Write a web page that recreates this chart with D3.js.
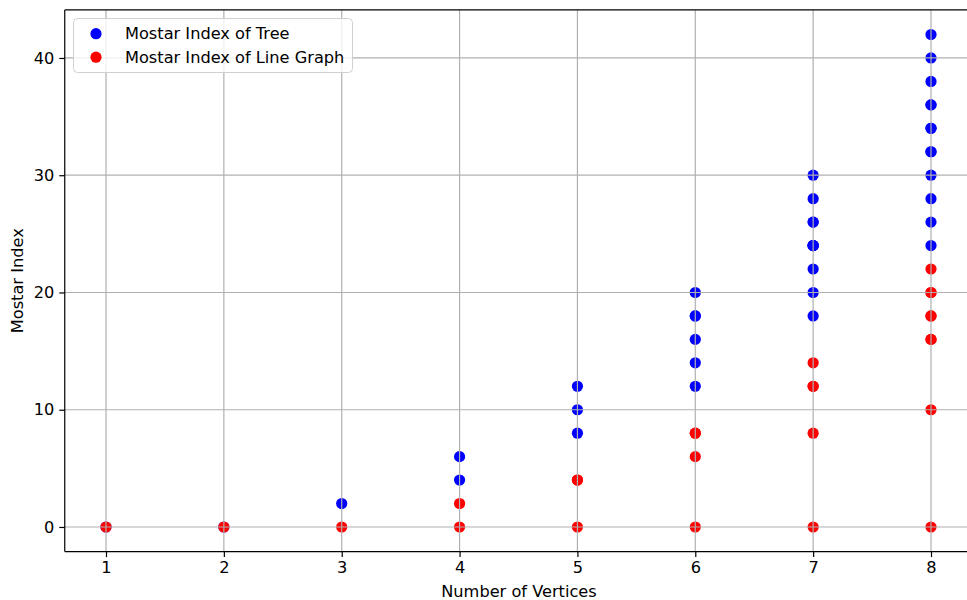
<!DOCTYPE html>
<html><head><meta charset="utf-8">
<script src="https://cdn.jsdelivr.net/npm/d3@7"></script>
<style>body{margin:0;background:#fff}svg{display:block}text{font-family:"DejaVu Sans",sans-serif;fill:#000}</style>
</head><body><div id="c"></div>
<script>
const treeVertices = [1,2,3,4,4,5,5,5,6,6,6,6,6,6,7,7,7,7,7,7,7,7,7,7,7,8,8,8,8,8,8,8,8,8,8,8,8,8];
const treeMostar   = [0,0,2,4,6,8,10,12,12,14,16,18,18,20,18,20,22,24,24,26,26,28,30,24,24,24,26,28,30,32,32,34,34,36,36,38,40,42];
const lineVertices = [1,2,3,4,4,5,5,5,6,6,6,6,7,7,7,7,7,8,8,8,8,8,8,8,8,8];
const lineMostar   = [0,0,0,0,2,0,4,4,0,6,8,8,0,8,12,12,14,0,10,16,16,18,18,20,20,22];
const xTicks = [1,2,3,4,5,6,7,8];
const yTicks = [0,10,20,30,40];
const seriesNames = ["Mostar Index of Tree","Mostar Index of Line Graph"];
const seriesColors = ["#0000ff","#ff0000"];

const W=967,H=600;
const L=64.75,R=972.25,T=9.9,B=551.6;
const FS=16.2;
const svg=d3.select("#c").append("svg").attr("width",W).attr("height",H);
const x=d3.scaleLinear().domain([0.65,8.35]).range([L,R]);
const y=d3.scaleLinear().domain([-2.1,44.1]).range([B,T]);

const pts=[];
treeVertices.forEach((v,i)=>pts.push({x:v,y:treeMostar[i],c:seriesColors[0]}));
lineVertices.forEach((v,i)=>pts.push({x:v,y:lineMostar[i],c:seriesColors[1]}));
svg.append("g").selectAll("circle").data(pts).join("circle")
  .attr("cx",d=>x(d.x)).attr("cy",d=>y(d.y)).attr("r",5.6).attr("fill",d=>d.c);

// grid (drawn over points like matplotlib)
const g=svg.append("g").attr("stroke","#b0b0b0").attr("stroke-width",1.2);
xTicks.forEach(t=>g.append("line").attr("x1",x(t)).attr("x2",x(t)).attr("y1",T).attr("y2",B));
yTicks.forEach(t=>g.append("line").attr("x1",L).attr("x2",R).attr("y1",y(t)).attr("y2",y(t)));

// axes
const xa=svg.append("g").attr("transform",`translate(0,${B})`)
  .call(d3.axisBottom(x).tickValues(xTicks).tickSize(5.5).tickPadding(4).tickFormat(d3.format("d")));
const ya=svg.append("g").attr("transform",`translate(${L},0)`)
  .call(d3.axisLeft(y).tickValues(yTicks).tickSize(5.5).tickPadding(5).tickFormat(d3.format("d")));
[xa,ya].forEach(a=>{a.select(".domain").remove();a.selectAll("line").attr("stroke","#000").attr("stroke-width",1.2);
  a.selectAll("text").attr("font-family","DejaVu Sans").attr("font-size",FS).attr("fill","#000");});
// spines
const sp=svg.append("g").attr("stroke","#000").attr("stroke-width",1.2).attr("fill","none");
sp.append("line").attr("x1",L).attr("x2",L).attr("y1",T).attr("y2",B);
sp.append("line").attr("x1",L).attr("x2",R).attr("y1",B).attr("y2",B);
sp.append("line").attr("x1",L).attr("x2",R).attr("y1",T).attr("y2",T);
sp.append("line").attr("x1",R).attr("x2",R).attr("y1",T).attr("y2",B);

svg.append("text").attr("x",519).attr("y",597).attr("text-anchor","middle").attr("font-size",FS).text("Number of Vertices");
svg.append("text").attr("transform",`translate(23,${(T+B)/2}) rotate(-90)`).attr("text-anchor","middle").attr("font-size",FS).text("Mostar Index");

// legend
const lg=svg.append("g");
lg.append("rect").attr("x",73.5).attr("y",18.5).attr("width",279).attr("height",54).attr("rx",4)
  .attr("fill","#fff").attr("fill-opacity",0.8).attr("stroke","#d0d0d0").attr("stroke-width",1);
seriesNames.forEach((n,i)=>{
  const cy=33.7+i*23.5;
  lg.append("circle").attr("cx",96).attr("cy",cy).attr("r",5.6).attr("fill",seriesColors[i]);
  lg.append("text").attr("x",125).attr("y",cy+5.5).attr("font-size",FS).text(n);
});
</script></body></html>
